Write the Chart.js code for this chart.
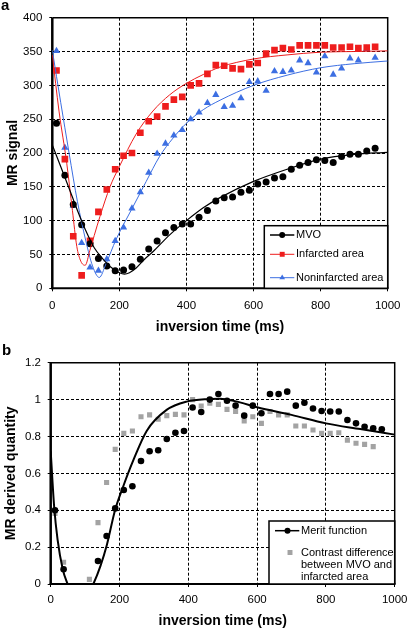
<!DOCTYPE html>
<html>
<head>
<meta charset="utf-8">
<script src="https://cdn.jsdelivr.net/npm/chart.js@4.4.1/dist/chart.umd.min.js"></script>
<style>
  html, body { margin: 0; padding: 0; background: #fff; overflow: hidden; }
  canvas { display: block; }
</style>
</head>
<body>
<canvas id="grafico-a" width="407" height="340"></canvas>
<canvas id="grafico-b" width="407" height="289"></canvas>
<script>
// tempos de inversão (ms) dos pontos medidos
const tempos = [12.5, 37.5, 62.5, 87.5, 112.5, 137.5, 162.5, 187.5, 212.5, 237.5, 262.5, 287.5, 312.5,
  337.5, 362.5, 387.5, 412.5, 437.5, 462.5, 487.5, 512.5, 537.5, 562.5, 587.5, 612.5, 637.5, 662.5,
  687.5, 712.5, 737.5, 762.5, 787.5, 812.5, 837.5, 862.5, 887.5, 912.5, 937.5, 962.5];

// painel a - sinal de RM
const mvo = [244, 167, 124, 94, 66, 44, 33, 26, 27, 32, 43, 58, 70, 82, 90, 95, 95, 105, 115, 129,
  134, 135, 142, 145, 154, 157, 163, 165, 176, 182, 186, 190, 189, 186, 195, 198, 198, 203, 207];
const infartada = [322, 191, 77, 19, 70, 113, 146, 176, 196, 200, 230, 247, 254, 269, 279, 283, 300, 303, 317, 330,
  329, 325, 324, 331, 333, 347, 352, 355, 353, 359, 359, 359, 359, 356, 356, 357, 355, 356, 357];
const naoInfartada = [351, 208, 122, 67, 31, 26, 43, 70, 90, 118, 142, 171, 199, 214, 226, 234, 250, 260, 274, 286,
  268, 270, 281, 305, 306, 292, 321, 320, 322, 337, 333, 319, 343, 316, 325, 340, 337, 354, 341];

// curvas ajustadas
const ajusteMvoT = [0, 25, 50, 75, 100, 125, 150, 175, 200, 215, 230, 250, 275, 300, 350, 400, 450, 500, 600, 700, 800, 900, 1000];
const ajusteMvo = [212, 180, 148, 115, 85, 60, 44, 31, 23, 21, 23, 30, 43, 54, 79, 100, 119, 134, 158, 176, 191, 198, 201];
const ajusteInfT = [0, 20, 43, 60, 73, 85, 98, 112, 125, 142, 172, 200, 250, 300, 350, 400, 450, 500, 600, 700, 800, 900, 1000];
const ajusteInf = [345, 262, 185, 115, 62, 40, 34, 56, 78, 106, 150, 180, 228, 262, 286, 303, 316, 327, 339, 345, 349, 350, 351];
const ajusteNaoT = [0, 25, 50, 75, 100, 120, 140, 160, 190, 240, 280, 320, 360, 400, 450, 500, 600, 700, 800, 900, 1000];
const ajusteNao = [352, 275, 200, 128, 70, 33, 16, 36, 72, 120, 158, 195, 222, 244, 264, 278, 300, 315, 326, 332, 336];

// painel b - quantidades derivadas
const merito = [0.40, 0.08, null, null, null, 0.125, 0.26, 0.41, 0.51, 0.53, 0.667, 0.72, 0.725, 0.786, 0.82,
  0.83, 0.957, 0.933, 1.0, 1.03, 0.994, 0.967, 0.913, 0.967, 0.926, 1.03, 1.03, 1.043, 0.967, 0.983,
  0.952, 0.938, 0.935, 0.935, 0.889, 0.871, 0.853, 0.844, 0.839];
const contraste = [0.383, 0.118, null, null, 0.025, 0.333, 0.55, 0.73, 0.817, 0.83, 0.907, 0.917, 0.893, 0.913, 0.92,
  0.917, 1.0, 0.965, 0.98, 0.974, 0.947, 0.935, 0.884, 0.907, 0.871, 0.935, 0.917, 0.917, 0.857, 0.857,
  0.835, 0.817, 0.817, 0.82, 0.78, 0.763, 0.757, 0.745, null];
const ajusteMeritoT = [0, 10, 20, 35, 49, 62, 87, 110, 124, 145, 163, 187, 211, 240, 279, 337, 395, 463, 492, 550, 600, 700, 800, 900, 1000];
const ajusteMerito = [0.72, 0.42, 0.24, 0.08, 0, -0.06, -0.1, -0.05, 0, 0.1, 0.21, 0.40, 0.53, 0.67, 0.83, 0.944, 0.989, 1.003, 1.005, 0.985, 0.958, 0.917, 0.871, 0.84, 0.81];

const rotulosA = ['MVO', 'Infarcted area', 'Noninfarcted area'];
const rotulosB = ['Merit function', ['Contrast difference', 'between MVO and', 'infarcted area']];

const VERMELHO = '#ee1d1d';
const AZUL = '#3d6fe2';
const CINZA = '#a3a3a3';
const FONTE = "'Liberation Sans', Arial, sans-serif";

Chart.defaults.font.family = FONTE;
Chart.defaults.color = '#000';

const pares = (xs, ys) => xs.map((x, i) => ({ x: x, y: ys[i] }));
const rotuloTick = v => String(parseFloat(Number(v).toFixed(2)));

function pontos(label, ys, cor, forma, raio) {
  return {
    type: 'scatter', label: label, data: pares(tempos, ys), order: 2,
    pointStyle: forma, pointRadius: raio, pointBackgroundColor: cor,
    pointBorderColor: cor, pointBorderWidth: 0, showLine: false
  };
}

function curva(xs, ys, cor, largura) {
  return {
    type: 'line', data: pares(xs, ys), order: 1, borderColor: cor, borderWidth: largura,
    pointRadius: 0, fill: false, cubicInterpolationMode: 'monotone', clip: 0
  };
}

function eixoX(padTick, padTitulo, altura) {
  return {
    type: 'linear', min: 0, max: 1000,
    ticks: { stepSize: 200, padding: padTick, maxRotation: 0, font: { size: 11.5 }, color: '#000', callback: rotuloTick },
    grid: {
      color: c => (c.tick && (c.tick.value === 0 || c.tick.value === 1000)) ? 'rgba(0,0,0,0)' : '#000',
      lineWidth: 1, drawTicks: true, tickLength: 3, tickColor: '#000', tickWidth: 1
    },
    border: { display: false, dash: [3, 2] },
    title: { display: true, text: 'inversion time (ms)', font: { size: 14, weight: 'bold', lineHeight: 1 }, padding: { top: 0, bottom: padTitulo } },
    afterFit: s => { s.height = altura; s.paddingLeft = 0; s.paddingRight = 0; }
  };
}

function eixoY(min, max, passo, titulo, padTick, padTitulo, largura) {
  return {
    min: min, max: max,
    ticks: { stepSize: passo, padding: padTick, font: { size: 11.5 }, color: '#000', callback: rotuloTick },
    grid: {
      color: c => (c.tick && (c.tick.value === min || c.tick.value === max)) ? 'rgba(0,0,0,0)' : '#000',
      lineWidth: 1, drawTicks: true, tickLength: 3, tickColor: '#000', tickWidth: 1
    },
    border: { display: false, dash: [3, 2] },
    title: { display: true, text: titulo, font: { size: 14, weight: 'bold', lineHeight: 1 }, padding: { top: padTitulo, bottom: 0 } },
    afterFit: s => { s.width = largura; s.paddingTop = 0; s.paddingBottom = 0; }
  };
}

function marcador(ctx, forma, x, y, r, cor) {
  ctx.fillStyle = cor;
  ctx.beginPath();
  if (forma === 'circle') {
    ctx.arc(x, y, r, 0, Math.PI * 2);
  } else if (forma === 'rect') {
    const s = r * Math.SQRT1_2;
    ctx.rect(x - s, y - s, 2 * s, 2 * s);
  } else {
    ctx.moveTo(x, y - r);
    ctx.lineTo(x + r * 0.866, y + r * 0.5);
    ctx.lineTo(x - r * 0.866, y + r * 0.5);
    ctx.closePath();
  }
  ctx.fill();
}

const moldura = {
  id: 'moldura',
  beforeDatasetsDraw(chart) {
    const { ctx, chartArea: a } = chart;
    ctx.save();
    ctx.strokeStyle = '#000';
    ctx.lineWidth = 1.5;
    ctx.beginPath();
    ctx.moveTo(a.left, a.top); ctx.lineTo(a.right, a.top); ctx.lineTo(a.right, a.bottom);
    ctx.stroke();
    ctx.lineWidth = 2.5;
    ctx.beginPath(); ctx.moveTo(a.left, a.top); ctx.lineTo(a.left, a.bottom + 1); ctx.stroke();
    ctx.lineWidth = 2;
    ctx.beginPath(); ctx.moveTo(a.left - 1, a.bottom); ctx.lineTo(a.right + 0.75, a.bottom); ctx.stroke();
    ctx.restore();
  },
  afterDraw(chart, args, opts) {
    const { ctx, chartArea: a } = chart;
    ctx.save();
    // letra do painel
    ctx.font = 'bold 15px ' + FONTE;
    ctx.fillStyle = '#000';
    ctx.textBaseline = 'middle';
    ctx.textAlign = 'left';
    ctx.fillText(opts.letra, opts.letraX, opts.letraY);
    // legenda
    const L = opts.legenda;
    ctx.fillStyle = '#fff';
    ctx.fillRect(L.left, L.top, a.right - L.left, a.bottom - L.top);
    ctx.strokeStyle = '#000';
    ctx.lineWidth = 1.5;
    ctx.strokeRect(L.left, L.top, a.right - L.left, a.bottom - L.top);
    ctx.font = '11px ' + FONTE;
    L.itens.forEach(it => {
      if (it.linha) {
        ctx.strokeStyle = it.cor;
        ctx.lineWidth = it.largura;
        ctx.beginPath(); ctx.moveTo(L.x0, it.y); ctx.lineTo(L.x1, it.y); ctx.stroke();
      }
      marcador(ctx, it.forma, it.mx, it.y, it.raio, it.cor);
      ctx.fillStyle = '#000';
      const linhas = Array.isArray(it.texto) ? it.texto : [it.texto];
      linhas.forEach((t, k) => ctx.fillText(t, L.tx, it.y + k * 12.3));
    });
    ctx.restore();
  }
};

new Chart(document.getElementById('grafico-a'), {
  data: {
    datasets: [
      pontos(rotulosA[0], mvo, '#000', 'circle', 3.5),
      pontos(rotulosA[1], infartada, VERMELHO, 'rect', 4.7),
      pontos(rotulosA[2], naoInfartada, AZUL, 'triangle', 4.2),
      curva(ajusteMvoT, ajusteMvo, '#000', 1.2),
      curva(ajusteInfT, ajusteInf, VERMELHO, 1),
      curva(ajusteNaoT, ajusteNao, AZUL, 1)
    ]
  },
  options: {
    responsive: false,
    animation: false,
    layout: { padding: { left: 0, right: 19.3, top: 17.7, bottom: 0 } },
    scales: {
      x: eixoX(7.5, 5.5, 51.7),
      y: eixoY(0, 400, 50, 'MR signal', 7, 6.5, 52.3)
    },
    plugins: {
      legend: { display: false },
      tooltip: { enabled: false },
      moldura: {
        letra: 'a', letraX: 1, letraY: 6,
        legenda: {
          left: 264.3, top: 225.7, x0: 270, x1: 294.3, tx: 296,
          itens: [
            { texto: rotulosA[0], cor: '#000', forma: 'circle', raio: 3, linha: true, largura: 1.5, mx: 282.2, y: 235 },
            { texto: rotulosA[1], cor: VERMELHO, forma: 'rect', raio: 3.5, linha: true, largura: 1, mx: 282.2, y: 254.3 },
            { texto: rotulosA[2], cor: AZUL, forma: 'triangle', raio: 3.3, linha: true, largura: 1, mx: 282.2, y: 277.7 }
          ]
        }
      }
    }
  },
  plugins: [moldura]
});

new Chart(document.getElementById('grafico-b'), {
  data: {
    datasets: [
      pontos(rotulosB[0], merito, '#000', 'circle', 3.3),
      pontos(rotulosB[1].join(' '), contraste, CINZA, 'rect', 3.6),
      curva(ajusteMeritoT, ajusteMerito, '#000', 2)
    ]
  },
  options: {
    responsive: false,
    animation: false,
    layout: { padding: { left: 0, right: 12.3, top: 22.7, bottom: 0 } },
    scales: {
      x: eixoX(6, 0.5, 45),
      y: eixoY(0, 1.2, 0.2, 'MR derived quantity', 6.7, 4.5, 50.7)
    },
    plugins: {
      legend: { display: false },
      tooltip: { enabled: false },
      moldura: {
        letra: 'b', letraX: 2, letraY: 11,
        legenda: {
          left: 269, top: 181, x0: 275, x1: 299.3, tx: 301,
          itens: [
            { texto: rotulosB[0], cor: '#000', forma: 'circle', raio: 3, linha: true, largura: 1.5, mx: 287.5, y: 190.7 },
            { texto: rotulosB[1], cor: CINZA, forma: 'rect', raio: 3.5, linha: false, mx: 290, y: 212.5 }
          ]
        }
      }
    }
  },
  plugins: [moldura]
});
</script>
</body>
</html>
